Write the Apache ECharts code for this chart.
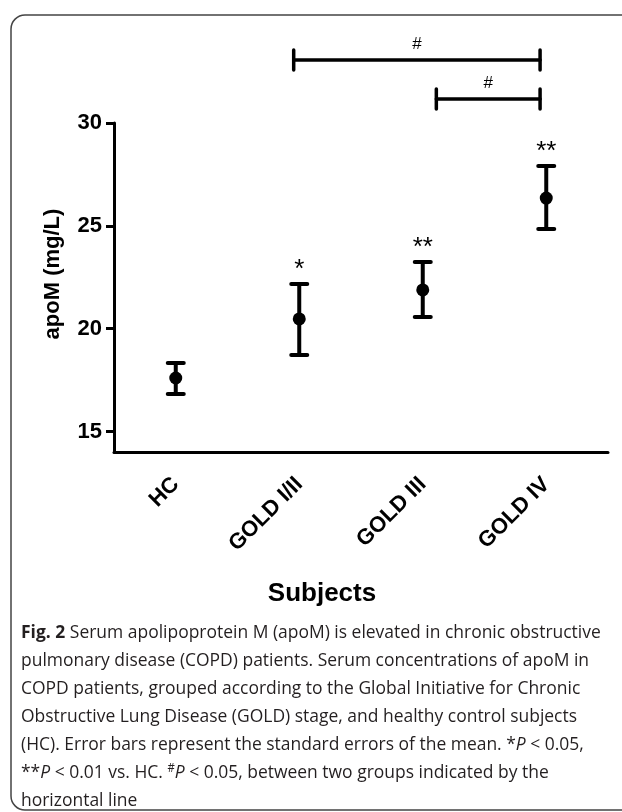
<!DOCTYPE html>
<html><head><meta charset="utf-8">
<script src="https://cdn.jsdelivr.net/npm/echarts@6/dist/echarts.min.js"></script>
<style>html,body{margin:0;padding:0;background:#fff}#c{width:622px;height:812px}</style>
</head><body><div id="c"></div>
<script>
// ---- data ----
const categories = ['HC', 'GOLD I/II', 'GOLD III', 'GOLD IV'];
const means = [17.60, 20.47, 21.88, 26.35];
const lows  = [16.82, 18.72, 20.56, 24.84];
const highs = [18.33, 22.17, 23.24, 27.91];
const stars = ['', '*', '**', '**'];
const yTicks = [15, 20, 25, 30];
const yMin = 14, yMax = 30;
// significance brackets (positions in category units, height in mg/L)
const bracketFrom = [0.955, 2.11];
const bracketTo = [2.95, 2.95];
const bracketY = [33.06, 31.17];
const bracketLabels = ['#', '#'];

const captionLines = [
  '{b|Fig. 2} Serum apolipoprotein M (apoM) is elevated in chronic obstructive',
  'pulmonary disease (COPD) patients. Serum concentrations of apoM in',
  'COPD patients, grouped according to the Global Initiative for Chronic',
  'Obstructive Lung Disease (GOLD) stage, and healthy control subjects',
  '(HC). Error bars represent the standard errors of the mean. *{i|P} < 0.05,',
  '**{i|P} < 0.01 vs. HC. {sup|#}{i|P} < 0.05, between two groups indicated by the',
  'horizontal line'
];

const capFont = 'Open Sans';
const capSize = 18.5;
// measure natural width of a plain line to condense caption to the reference width
const cv = document.createElement('canvas').getContext('2d');
cv.font = capSize + 'px "' + capFont + '"';
const natural = cv.measureText(captionLines[1]).width;
const capScale = 568 / natural;

const errData = categories.map((c, i) => [i, means[i], lows[i], highs[i]]);
const brData = bracketFrom.map((f, i) => [f, bracketTo[i], bracketY[i]]);

const chart = echarts.init(document.getElementById('c'));
chart.setOption({
  animation: false,
  backgroundColor: '#fff',
  grid: { left: 114, right: 14, top: 123, bottom: 360, containLabel: false },
  xAxis: {
    type: 'category', data: categories, boundaryGap: true,
    axisLine: { lineStyle: { color: '#000', width: 3 } },
    axisTick: { alignWithLabel: true, length: 10, lineStyle: { color: '#000', width: 3 } },
    axisLabel: { rotate: 45, margin: 29, color: '#000', fontFamily: 'Liberation Sans, Arial', fontWeight: 'bold', fontSize: 22 },
    splitLine: { show: false }
  },
  yAxis: {
    type: 'value', min: yMin, max: yMax,
    axisLine: { show: true, lineStyle: { color: '#000', width: 3 } },
    axisTick: { show: true, customValues: yTicks, length: 8, lineStyle: { color: '#000', width: 3 } },
    axisLabel: { customValues: yTicks, margin: 12, color: '#000', fontFamily: 'Liberation Sans, Arial', fontWeight: 'bold', fontSize: 22 },
    splitLine: { show: false }
  },
  graphic: [
    { type: 'rect', silent: true, shape: { x: 11, y: 15, width: 700, height: 795, r: 14 },
      style: { fill: 'none', stroke: '#444', lineWidth: 1.5 } },
    { type: 'text', rotation: Math.PI / 2, x: 53, y: 274,
      style: { text: 'apoM (mg/L)', fill: '#000', font: 'bold 22px "Liberation Sans", Arial', textAlign: 'center', textVerticalAlign: 'middle' } },
    { type: 'text', x: 322, y: 594,
      style: { text: 'Subjects', fill: '#000', font: 'bold 26px "Liberation Sans", Arial', textAlign: 'center', textVerticalAlign: 'middle' } },
    { type: 'text', x: 21, y: 619, scaleX: capScale, originX: 0, originY: 0,
      style: {
        text: captionLines.join('\n'), fill: '#231f20', fontFamily: capFont, fontSize: capSize, lineHeight: 28,
        rich: {
          b: { fontWeight: 'bold', fontFamily: capFont, fontSize: capSize, lineHeight: 28 },
          i: { fontStyle: 'italic', fontFamily: capFont, fontSize: capSize, lineHeight: 28 },
          sup: { fontFamily: capFont, fontSize: 12, lineHeight: 28, verticalAlign: 'top', padding: [4, 0, 0, 0] }
        }
      } }
  ],
  series: [
    {
      type: 'custom', data: errData, clip: false,
      renderItem: function (params, api) {
        const i = api.value(0);
        const pm = api.coord([i, api.value(1)]);
        const pl = api.coord([i, api.value(2)]);
        const ph = api.coord([i, api.value(3)]);
        const x = pm[0], cw = 8;
        const st = { stroke: '#000', lineWidth: 4, lineCap: 'round' };
        const kids = [
          { type: 'line', shape: { x1: x, y1: pl[1], x2: x, y2: ph[1] }, style: { stroke: '#000', lineWidth: 4 } },
          { type: 'line', shape: { x1: x - cw, y1: ph[1], x2: x + cw, y2: ph[1] }, style: st },
          { type: 'line', shape: { x1: x - cw, y1: pl[1], x2: x + cw, y2: pl[1] }, style: st },
          { type: 'circle', shape: { cx: x, cy: pm[1], r: 6.5 }, style: { fill: '#000' } }
        ];
        const s = stars[params.dataIndex];
        if (s) kids.push({ type: 'text', x: x, y: ph[1] - 14,
          style: { text: s, fill: '#000', font: '26px "Liberation Sans", Arial', textAlign: 'center', textVerticalAlign: 'middle' } });
        return { type: 'group', children: kids };
      }
    },
    {
      type: 'custom', data: brData, clip: false,
      renderItem: function (params, api) {
        const y = api.value(2);
        const p0 = api.coord([0, y]);
        const bw = api.size([1, 0])[0];
        const xa = p0[0] + api.value(0) * bw, xb = p0[0] + api.value(1) * bw, yy = p0[1];
        const st = { stroke: '#000', lineWidth: 3.5, lineCap: 'round' };
        return { type: 'group', children: [
          { type: 'line', shape: { x1: xa, y1: yy, x2: xb, y2: yy }, style: st },
          { type: 'line', shape: { x1: xa, y1: yy - 10, x2: xa, y2: yy + 10 }, style: st },
          { type: 'line', shape: { x1: xb, y1: yy - 10, x2: xb, y2: yy + 10 }, style: st },
          { type: 'text', x: (xa + xb) / 2, y: yy - 16,
            style: { text: bracketLabels[params.dataIndex], fill: '#000', font: '17px "Liberation Sans", Arial', textAlign: 'center', textVerticalAlign: 'middle' } }
        ] };
      }
    }
  ]
});
</script>
</body></html>
